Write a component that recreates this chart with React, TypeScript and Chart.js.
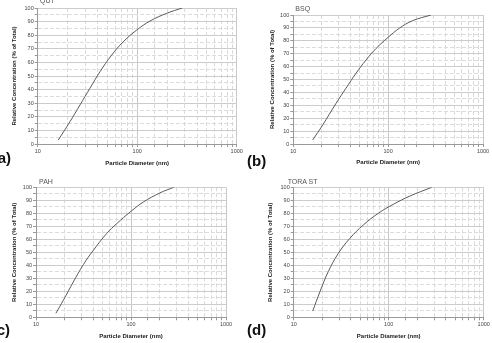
import React, { useEffect, useRef } from "react";
import { Chart, registerables } from "chart.js";

Chart.register(...registerables);

const FONT = "'Liberation Sans', Arial, sans-serif";

// Particle diameters (nm) and relative concentration (% of total) per source
const diamQUT = [16.1, 21.1, 26.6, 33.5, 42.3, 55.4, 72.5, 98.9, 134.5, 197.8, 284];
const concQUT = [2.9, 16.4, 28.7, 41, 53.2, 65.4, 75.2, 83.8, 90.4, 96.1, 100];

const diamBSQ = [16, 20.4, 28.2, 35.9, 45.8, 58.4, 74.4, 100, 131, 181, 283];
const concBSQ = [3.1, 14.7, 31.5, 43.2, 54.8, 65.1, 74, 82.7, 89.7, 95.6, 100];

const diamPAH = [16.2, 19.4, 24.7, 31.5, 40.1, 55.4, 70.6, 100, 135, 202, 282];
const concPAH = [3.1, 13.1, 27.2, 40.5, 51.5, 64.4, 72, 81.5, 88.7, 95.7, 100];

const diamTORA = [15.85, 18.9, 23.1, 29.5, 39.1, 54, 77.7, 111.7, 167.5, 284];
const concTORA = [4.8, 19.7, 35.1, 49.2, 60.8, 71, 80, 86.9, 93.3, 100];

const titles = ["QUT", "BSQ", "PAH", "TORA ST"];
const panelLabels = ["(a)", "(b)", "(c)", "(d)"];
const xTitle = "Particle Diameter (nm)";
const yTitle = "Relative Concentration (% of Total)";

const isPow10 = (v: number) => {
  const l = Math.log10(v);
  return Math.abs(l - Math.round(l)) < 1e-9;
};

type PanelSpec = {
  left: number;
  top: number;
  xs: number[];
  ys: number[];
  pad: { left: number; top: number; right: number; bottom: number };
  wy: number;
  hx: number;
};

const panels: PanelSpec[] = [
  { left: 0, top: 0, xs: diamQUT, ys: concQUT, pad: { left: 10.8, top: 8, right: 9.3, bottom: 4.8 }, wy: 26.9, hx: 23.2 },
  { left: 246, top: 0, xs: diamBSQ, ys: concBSQ, pad: { left: 22.5, top: 15, right: 9, bottom: 5.8 }, wy: 24.8, hx: 22.2 },
  { left: 0, top: 172, xs: diamPAH, ys: concPAH, pad: { left: 10.8, top: 15.3, right: 20, bottom: 4.5 }, wy: 25.2, hx: 22.2 },
  { left: 246, top: 172, xs: diamTORA, ys: concTORA, pad: { left: 20.8, top: 15.3, right: 8.3, bottom: 4.5 }, wy: 26.9, hx: 22.2 },
];

function makeConfig(p: PanelSpec): any {
  return {
    type: "line",
    data: {
      datasets: [
        {
          data: p.xs.map((x, i) => ({ x, y: p.ys[i] })),
          borderColor: "#5a5a5a",
          borderWidth: 1,
          pointRadius: 0,
          fill: false,
          tension: 0.4,
        },
      ],
    },
    options: {
      animation: false,
      responsive: false,
      maintainAspectRatio: false,
      layout: { padding: p.pad },
      plugins: { legend: { display: false }, tooltip: { enabled: false }, title: { display: false } },
      scales: {
        x: {
          type: "logarithmic",
          min: 10,
          max: 1000,
          afterFit: (s: any) => {
            s.height = p.hx;
          },
          ticks: {
            autoSkip: false,
            maxRotation: 0,
            padding: 1,
            font: { size: 5.5, family: FONT },
            color: "#444",
            callback: (v: any) => (isPow10(Number(v)) ? String(Number(v)) : ""),
          },
          grid: {
            color: (c: any) => (c.tick && isPow10(c.tick.value) ? "#c8c8c8" : "#dadada"),
            lineWidth: 1,
            tickLength: 3,
            tickColor: "#999",
          },
          border: {
            color: "#999",
            dash: (c: any) => (c.tick && !isPow10(c.tick.value) ? [4, 2] : []),
          },
          title: {
            display: true,
            text: xTitle,
            font: { size: 6, weight: "bold", family: FONT },
            color: "#222",
            padding: 0,
          },
        },
        y: {
          min: 0,
          max: 100,
          afterFit: (s: any) => {
            s.width = p.wy;
          },
          ticks: {
            stepSize: 5,
            autoSkip: false,
            padding: 1,
            font: { size: 5.5, family: FONT },
            color: "#444",
            callback: (v: any) => (Number(v) % 10 === 0 ? String(v) : ""),
          },
          grid: {
            color: (c: any) => (c.tick && c.tick.value % 10 === 0 ? "#cccccc" : "#dcdcdc"),
            lineWidth: 1,
            tickLength: 3,
            tickColor: "#999",
          },
          border: {
            color: "#999",
            dash: (c: any) => (c.tick && c.tick.value % 10 !== 0 ? [4, 2] : []),
          },
          title: {
            display: true,
            text: yTitle,
            font: { size: 6, weight: "bold", family: FONT },
            color: "#222",
            padding: 0,
          },
        },
      },
    },
  };
}

function Panel({ spec }: { spec: PanelSpec }) {
  const ref = useRef<HTMLCanvasElement | null>(null);
  useEffect(() => {
    if (!ref.current) return;
    const chart = new Chart(ref.current, makeConfig(spec));
    return () => chart.destroy();
  }, [spec]);
  return (
    <canvas
      ref={ref}
      width={246}
      height={172}
      style={{ position: "absolute", left: spec.left, top: spec.top, width: 246, height: 172 }}
    />
  );
}

const titlePos = [
  { left: 40, cy: -0.5 },
  { left: 295.3, cy: 8.2 },
  { left: 39, cy: 180.5 },
  { left: 287.7, cy: 180.5 },
];
const labelPos = [
  { left: -7.3, cy: 156.7 },
  { left: 247, cy: 160 },
  { left: -8.3, cy: 328.5 },
  { left: 247, cy: 328.5 },
];

export default function App() {
  return (
    <div
      style={{
        position: "fixed",
        left: 0,
        top: 0,
        width: 492,
        height: 343,
        overflow: "hidden",
        background: "#fff",
        fontFamily: FONT,
      }}
    >
      {panels.map((p, i) => (
        <Panel key={i} spec={p} />
      ))}
      {titles.map((t, i) => (
        <div
          key={"t" + i}
          style={{
            position: "absolute",
            left: titlePos[i].left,
            top: titlePos[i].cy,
            transform: "translateY(-50%)",
            fontSize: 7,
            lineHeight: 1,
            color: "#555",
            whiteSpace: "nowrap",
          }}
        >
          {t}
        </div>
      ))}
      {panelLabels.map((t, i) => (
        <div
          key={"l" + i}
          style={{
            position: "absolute",
            left: labelPos[i].left,
            top: labelPos[i].cy,
            transform: "translateY(-50%)",
            fontSize: 15,
            lineHeight: 1,
            fontWeight: "bold",
            color: "#111",
            whiteSpace: "nowrap",
          }}
        >
          {t}
        </div>
      ))}
    </div>
  );
}
